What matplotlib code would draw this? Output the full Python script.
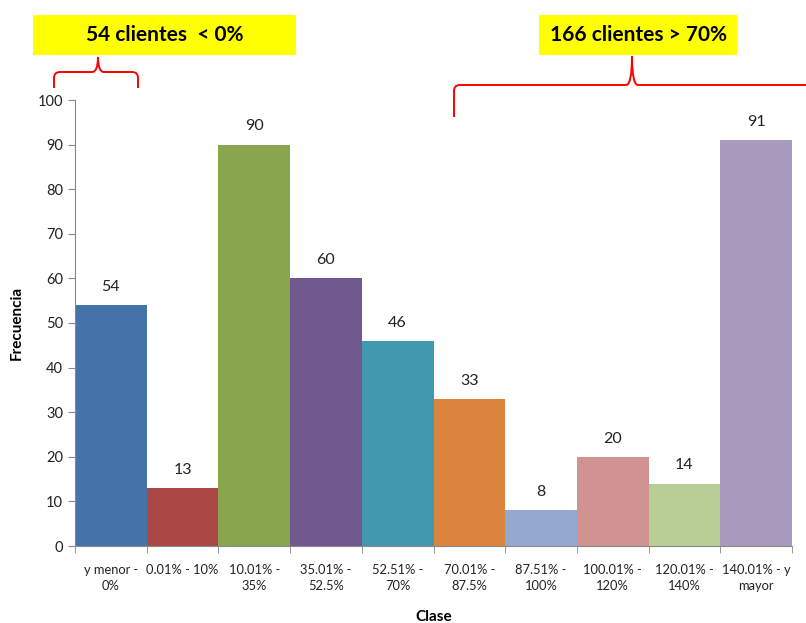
import matplotlib.pyplot as plt
from matplotlib.path import Path
from matplotlib.patches import PathPatch, Rectangle
import numpy as np

plt.rcParams['font.family'] = ['Lato', 'DejaVu Sans']

# histogram classes and counts
clases = ["y menor -\n0%", "0.01% - 10%", "10.01% -\n35%", "35.01% -\n52.5%",
          "52.51% -\n70%", "70.01% -\n87.5%", "87.51% -\n100%", "100.01% -\n120%",
          "120.01% -\n140%", "140.01% - y\nmayor"]
frecuencia = [54, 13, 90, 60, 46, 33, 8, 20, 14, 91]
colores = ["#4572A7", "#AA4643", "#89A54E", "#71588F", "#4198AF",
           "#DB843D", "#93A9CF", "#D19392", "#B9CD96", "#A99BBD"]
y_ticks = list(range(0, 101, 10))

W, H = 806, 623
fig = plt.figure(figsize=(W / 100, H / 100), dpi=100)
ax = fig.add_axes([75 / W, 1 - 546 / H, (792 - 75) / W, (546 - 100) / H])

x = np.arange(len(clases))
ax.bar(x, frecuencia, width=1.0, color=colores, edgecolor="none")
for xi, v in zip(x, frecuencia):
    ax.annotate(str(v), (xi, v), xytext=(0, 8), textcoords="offset points",
                ha="center", va="bottom", fontsize=11.5, color="#222222")

ax.set_xlim(-0.5, len(clases) - 0.5)
ax.set_ylim(0, 100)
ax.set_yticks(y_ticks)
ax.tick_params(axis="y", labelsize=10.5, length=5, color="#888888", labelcolor="#222222")
ax.set_xticks(x)
ax.set_xticklabels(clases, fontsize=9.3, color="#222222", linespacing=1.35)
ax.tick_params(axis="x", length=0, pad=13)
ax.set_xticks(np.arange(-0.5, len(clases)), minor=True)
ax.tick_params(axis="x", which="minor", length=5, color="#888888")
for s in ["top", "right"]:
    ax.spines[s].set_visible(False)
for s in ["left", "bottom"]:
    ax.spines[s].set_color("#888888")

ax.set_ylabel("Frecuencia", fontsize=11, fontweight="bold", labelpad=10)
ax.set_xlabel("Clase", fontsize=11, fontweight="bold", labelpad=13)


def px(xp, yp):
    return xp / W, 1 - yp / H


def llave(x0, x1, xc, y_linea, y_pico, y_pie, r=6):
    verts = [(x0, y_pie), (x0, y_linea + r), (x0, y_linea), (x0 + r, y_linea),
             (xc - r, y_linea), (xc, y_linea), (xc, y_pico),
             (xc, y_linea), (xc + r, y_linea),
             (x1 - r, y_linea), (x1, y_linea), (x1, y_linea + r), (x1, y_pie)]
    codes = [Path.MOVETO, Path.LINETO, Path.CURVE3, Path.CURVE3,
             Path.LINETO, Path.CURVE3, Path.CURVE3,
             Path.CURVE3, Path.CURVE3,
             Path.LINETO, Path.CURVE3, Path.CURVE3, Path.LINETO]
    path = Path([px(*v) for v in verts], codes)
    fig.patches.append(PathPatch(path, transform=fig.transFigure, fill=False,
                                 edgecolor="#FF0000", linewidth=1.4))


def recuadro(x0, x1, y0, y1, texto):
    fx0, fy1 = px(x0, y1)
    fx1, fy0 = px(x1, y0)
    fig.patches.append(Rectangle((fx0, fy1), fx1 - fx0, fy0 - fy1,
                                 transform=fig.transFigure, facecolor="#FFFF00",
                                 edgecolor="none"))
    fig.text((fx0 + fx1) / 2, (fy0 + fy1) / 2, texto, ha="center", va="center",
             fontsize=15, fontweight="bold", color="black")


recuadro(33, 296, 15, 55, "54 clientes  < 0%")
recuadro(539, 737, 15, 55, "166 clientes > 70%")
llave(54, 138, 98, 72, 57, 88)
llave(454, 830, 632, 85, 56, 117)

fig.savefig("out.png", dpi=100)
